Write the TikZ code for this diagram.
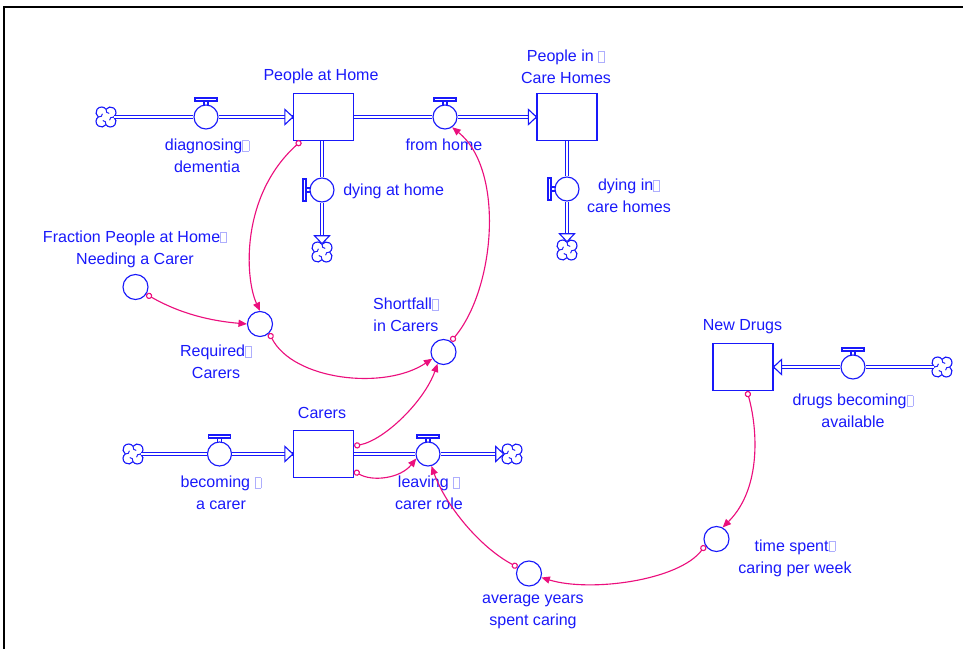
\documentclass[tikz,border=0pt]{standalone}
\usepackage{fontspec}
\setmainfont{Liberation Sans}
\usetikzlibrary{arrows.meta,calc}

\definecolor{vblue}{RGB}{25,25,250}
\definecolor{vlink}{RGB}{235,15,125}
\newcommand{\tofu}{{\color{vblue!35}\fboxsep=0pt\fboxrule=0.4pt\fbox{\rule{0pt}{7pt}\hspace{4pt}}}}

\tikzset{
  stock/.style={draw=vblue, line width=0.8pt, minimum width=1.5cm, minimum height=1.175cm, inner sep=0pt},
  valve/.style={circle, draw=vblue, fill=white, line width=0.8pt, minimum size=0.6cm, inner sep=0pt},
  aux/.style={circle, draw=vblue, line width=0.8pt, minimum size=0.625cm, inner sep=0pt},
  cloudsym/.style={circle, minimum size=0.4cm, inner sep=0pt},
  pipe/.style={draw=vblue, line width=0.6pt, double=white, double distance=1.6pt},
  lbl/.style={text=vblue, align=center, font=\fontsize{11.4}{15.6}\selectfont, inner sep=0pt},
  link/.style={draw=vlink, line width=0.8pt, {Circle[open,length=4.5pt]}-{Triangle[length=6pt,width=5pt]}},
  flowtip/.pic={\draw[vblue, line width=0.8pt, fill=white] (0,0) -- (-8,-7.5) -- (-8,7.5) -- cycle;},
  handle/.pic={\draw[vblue, line width=0.8pt] (-11,-19) rectangle (11,-16) (-2,-16) -- (-2,-12) (2,-16) -- (2,-12);},
  puffs/.pic={
    \foreach \a in {0,90,180,270}{
      \begin{scope}[rotate=\a]
        \draw[vblue, line width=0.8pt] (7.66,0) arc[start angle=-54.9, end angle=144.9, radius=5.5];
        \draw[vblue, line width=0.7pt] (7.66,0) .. controls (5,0) and (3.5,1) .. (3.6,3.2);
      \end{scope}
    }
  }
}

\begin{document}
\begin{tikzpicture}[x=0.025cm, y=-0.025cm]
  \useasboundingbox (0,0) rectangle (963,649);
  \draw[line width=1pt] (4,649) -- (4,7) -- (963,7);

  % stocks
  \node[stock] (PH) at (323.5,117) {};
  \node[stock] (PC) at (567,117) {};
  \node[stock] (CR) at (323.5,454) {};
  \node[stock] (ND) at (743,367) {};

  % valves
  \node[valve] (diag) at (206,117) {};
  \node[valve] (fromhome) at (445,117) {};
  \node[valve] (dyhome) at (322,190) {};
  \node[valve] (dycare) at (567,189) {};
  \node[valve] (becoming) at (219.5,454) {};
  \node[valve] (leaving) at (428,454) {};
  \node[valve] (newdrug) at (853,367) {};

  % clouds
  \node[cloudsym] (src1) at (106,117) {};
  \node[cloudsym] (snk1) at (322,252) {};
  \node[cloudsym] (snk2) at (567,250) {};
  \node[cloudsym] (src2) at (133,454) {};
  \node[cloudsym] (snk3) at (512,454) {};
  \node[cloudsym] (src3) at (942,367) {};
  \foreach \c in {src1,snk1,snk2,src2,snk3,src3}
    \pic at (\c) {puffs};

  % pipes
  \draw[pipe] (src1) -- (diag) (diag) -- (PH);
  \draw[pipe] (PH) -- (fromhome) (fromhome) -- (PC);
  \draw[pipe] (dyhome |- PH.south) -- (dyhome.north);
  \draw[pipe] (dyhome.south) -- (snk1.north);
  \draw[pipe] (PC.south) -- (dycare.north) (dycare.south) -- (snk2.north);
  \draw[pipe] (src2) -- (becoming) (becoming) -- (CR);
  \draw[pipe] (CR) -- (leaving) (leaving) -- (snk3);
  \draw[pipe] (src3) -- (newdrug) (newdrug) -- (ND);

  \pic at (PH.west) {flowtip};
  \pic at (PC.west) {flowtip};
  \pic at (CR.west) {flowtip};
  \pic[rotate=180] at (ND.east) {flowtip};
  \pic[rotate=-90] at (snk1.north) {flowtip};
  \pic[rotate=-90] at (snk2.north) {flowtip};
  \pic at (snk3.west) {flowtip};

  \pic at (diag) {handle};
  \pic at (fromhome) {handle};
  \pic[rotate=90] at (dyhome) {handle};
  \pic[rotate=90] at (dycare) {handle};
  \pic at (becoming) {handle};
  \pic at (leaving) {handle};
  \pic at (newdrug) {handle};

  % auxiliaries
  \node[aux] (frac) at (135.5,287) {};
  \node[aux] (req) at (260,324) {};
  \node[aux] (short) at (443.5,352) {};
  \node[aux] (tspent) at (716.5,539) {};
  \node[aux] (avgyrs) at (529,573.5) {};

  % labels
  \node[lbl] (lPH) at (321,76) {People at Home};
  \node[lbl] (lPC) at (566,67) {People in \tofu\\Care Homes};
  \node[lbl] (ldiag) at (207,156) {diagnosing\tofu\\dementia};
  \node[lbl] (lfrom) at (444,145) {from home};
  \node[lbl, anchor=west] (ldyh) at (343,191) {dying at home};
  \node[lbl] (ldyc) at (629,196) {dying in\tofu\\care homes};
  \node[lbl] (lfrac) at (135,249) {Fraction People at Home\tofu\\Needing a Carer};
  \node[lbl] (lreq) at (216,362) {Required\tofu\\Carers};
  \node[lbl] (lshort) at (406,315) {Shortfall\tofu\\in Carers};
  \node[lbl] (lCR) at (322,413) {Carers};
  \node[lbl] (lbec) at (221,493) {becoming \tofu\\a carer};
  \node[lbl] (lleav) at (429,493) {leaving \tofu\\carer role};
  \node[lbl] (lND) at (742.5,327) {New Drugs};
  \node[lbl] (ldrug) at (853,411) {drugs becoming\tofu\\available};
  \node[lbl] (ltime) at (795,558) {time spent\tofu\\caring per week};
  \node[lbl] (lavg) at (533,612) {average years\\spent caring};

  % links
  \draw[link] ($(PH.south west)+(8,0)$) .. controls +(-61,55) and +(-15,-32) .. (req.north);
  \draw[link] (frac.-34) .. controls +(35,20) and +(-35,-3) .. (req.west);
  \draw[link] (req.-45) .. controls +(24,47) and +(-48,32) .. (short.211);
  \draw[link] (short.55) .. controls +(44,-52) and +(53,43) .. (fromhome.-55);
  \draw[link] ($(CR.east)+(0,-8)$) .. controls +(31,-6) and +(-13,37) .. (short.-117);
  \draw[link] ($(CR.east)+(0,17)$) .. controls +(18,11) and +(-16,20) .. (leaving.201);
  \draw[link] ($(ND.south)+(4,0)$) .. controls +(10,35) and +(40,-40) .. (tspent.62);
  \draw[link] (tspent.210) .. controls +(-26,35) and +(49,15) .. (avgyrs.-18);
  \draw[link] (avgyrs.151) .. controls +(-38,-20) and +(14,39) .. (leaving.-74);
\end{tikzpicture}
\end{document}
